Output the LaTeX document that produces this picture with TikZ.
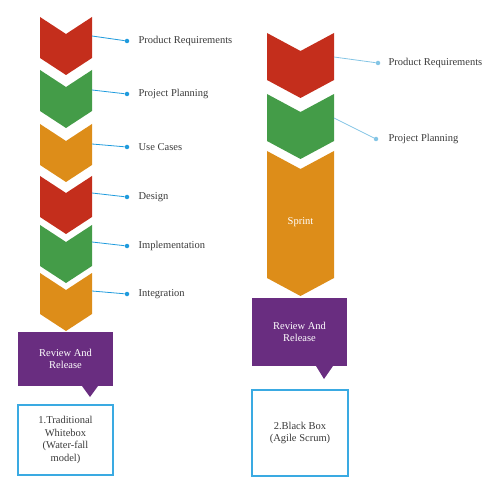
\documentclass[tikz,border=0pt]{standalone}
\usepackage{fontspec}
\setmainfont{Liberation Serif}
\usetikzlibrary{positioning}

\definecolor{chred}{HTML}{C42E1C}
\definecolor{chgreen}{HTML}{449C48}
\definecolor{chorange}{HTML}{DD8D19}
\definecolor{chpurple}{HTML}{692D80}
\definecolor{wireblue}{HTML}{1F9BDD}
\definecolor{wirelight}{HTML}{84C5E5}
\definecolor{boxblue}{HTML}{3AAAE2}
\definecolor{txtgray}{HTML}{3A3A3A}

% chevron: left x, right x, top y, side length, notch depth, colour
\newcommand{\chev}[6]{%
  \fill[#6] (#1,#3) -- ({(#1+#2)/2},#3+#5) -- (#2,#3) -- (#2,#3+#4)
    -- ({(#1+#2)/2},#3+#4+#5) -- (#1,#3+#4) -- cycle;}

\begin{document}
\begin{tikzpicture}[x=1pt, y=-1pt,
  every node/.style={font=\fontsize{10.5}{12.5}\selectfont, text=txtgray},
  dot/.style={circle, fill=#1, inner sep=0pt, minimum size=4.5pt},
  wire/.style={draw=#1, line width=0.8pt},
  lbl/.style={inner sep=0pt, anchor=west},
  review/.style={fill=chpurple, text=white, align=center, inner sep=0pt},
  result/.style={draw=boxblue, line width=1.1pt, align=center, inner sep=0pt}]

\useasboundingbox (0,0) rectangle (500,494);

% traditional column
\chev{40}{92}{17}{41}{17}{chred}
\chev{40}{92}{70}{41}{17}{chgreen}
\chev{40}{92}{124}{41}{17}{chorange}
\chev{40}{92}{176}{41}{17}{chred}
\chev{40}{92}{225}{41}{17}{chgreen}
\chev{40}{92}{273}{41}{17}{chorange}

\coordinate (c1) at (92,36);
\coordinate (c2) at (92,90);
\coordinate (c3) at (92,144);
\coordinate (c4) at (92,193);
\coordinate (c5) at (92,242);
\coordinate (c6) at (92,291);

\node[dot=wireblue] (d1) at (127,41) {};
\node[dot=wireblue] (d2) at (127,94) {};
\node[dot=wireblue] (d3) at (127,147) {};
\node[dot=wireblue] (d4) at (127,197) {};
\node[dot=wireblue] (d5) at (127,246) {};
\node[dot=wireblue] (d6) at (127,294) {};

\draw[wire=wireblue] (c1) -- (d1);
\draw[wire=wireblue] (c2) -- (d2);
\draw[wire=wireblue] (c3) -- (d3);
\draw[wire=wireblue] (c4) -- (d4);
\draw[wire=wireblue] (c5) -- (d5);
\draw[wire=wireblue] (c6) -- (d6);

\node[lbl, right=9pt of d1] (l1) {Product Requirements};
\node[lbl, right=9pt of d2] (l2) {Project Planning};
\node[lbl, right=9pt of d3] (l3) {Use Cases};
\node[lbl, right=9pt of d4] (l4) {Design};
\node[lbl, right=9pt of d5] (l5) {Implementation};
\node[lbl, right=9pt of d6] (l6) {Integration};

\node[review, minimum width=95pt, minimum height=54pt] (rv1) at (65.5,359) {Review And\\Release};
\fill[chpurple] (82,386) -- (90,397) -- (98,386) -- cycle;

\node[result, minimum width=95pt, minimum height=70pt] (wf) at (65.5,440) {1.Traditional\\Whitebox\\(Water-fall\\model)};

% agile column
\chev{267}{334}{33}{47}{18}{chred}
\chev{267}{334}{94}{47}{18}{chgreen}
\chev{267}{334}{151}{127}{18}{chorange}
\node[text=white] (sp) at (300.5,222) {Sprint};

\coordinate (r1) at (334,57);
\coordinate (r2) at (334,118);
\node[dot=wirelight] (e1) at (378,63) {};
\node[dot=wirelight] (e2) at (376,139) {};
\draw[wire=wirelight] (r1) -- (e1);
\draw[wire=wirelight] (r2) -- (e2);
\node[lbl, right=8pt of e1] (m1) {Product Requirements};
\node[lbl, right=10pt of e2] (m2) {Project Planning};

\node[review, minimum width=95pt, minimum height=68pt] (rv2) at (299.5,332) {Review And\\Release};
\fill[chpurple] (316,366) -- (324,379) -- (333,366) -- cycle;

\node[result, minimum width=96pt, minimum height=86pt] (bb) at (300,433) {2.Black Box\\(Agile Scrum)};
\end{tikzpicture}
\end{document}
